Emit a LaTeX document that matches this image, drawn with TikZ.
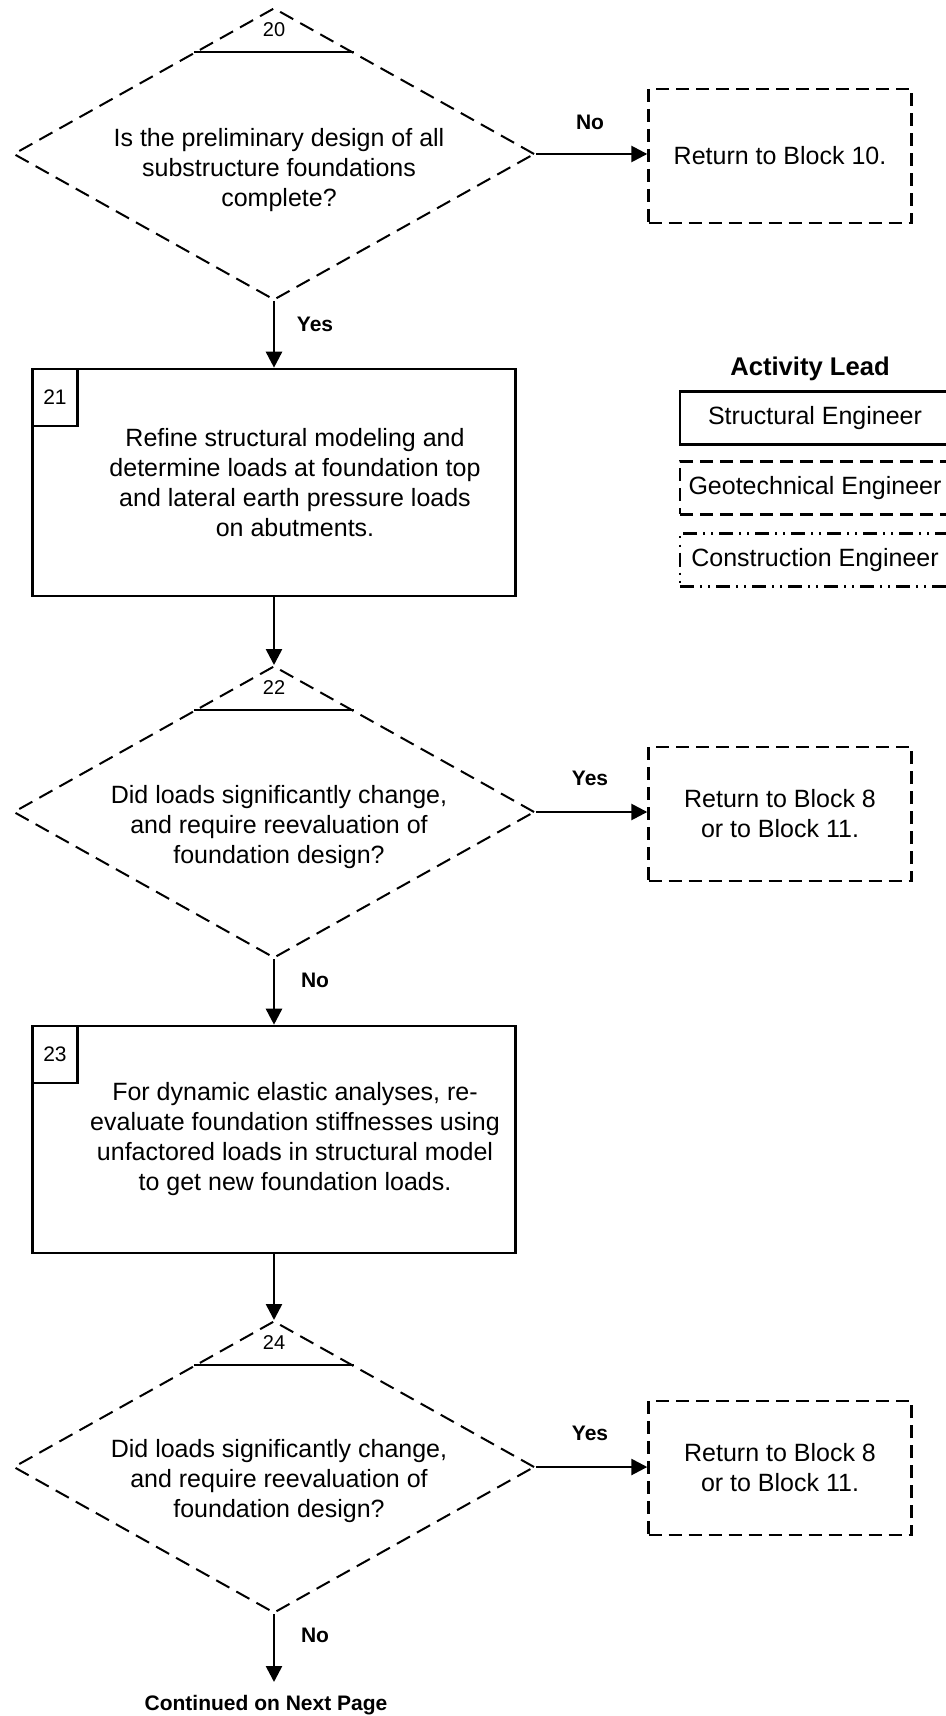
\documentclass[tikz,border=0pt]{standalone}
\usepackage{fontspec}
\setmainfont{Liberation Sans}
\usetikzlibrary{shapes.geometric}
\usetikzlibrary{arrows.meta,calc}

\begin{document}
\begin{tikzpicture}[x=0.5pt,y=-0.5pt,line width=1.3pt,
  every node/.style={align=center,font=\fontsize{12.5}{15}\selectfont},
  geodash/.style={dash pattern=on 6.5pt off 3.5pt},
  diadash/.style={dash pattern=on 7.5pt off 4pt},
  condash/.style={dash pattern=on 7pt off 3pt on 1pt off 3pt on 1pt off 3pt},
  decision/.style={diamond,draw,diadash,line width=1pt,aspect=1.78,inner sep=0pt,minimum width=260.5pt,minimum height=146pt},
  process/.style={rectangle,draw,minimum width=241.5pt,minimum height=113.5pt},
  numbox/.style={rectangle,draw,anchor=north west,inner sep=0pt,minimum width=22.5pt,minimum height=28.5pt,font=\fontsize{10.5}{12}\selectfont},
  returnbox/.style={rectangle,draw,geodash,line width=1.2pt,minimum width=131.5pt,minimum height=67pt},
  legendbox/.style={rectangle,draw,line width=1.1pt,minimum width=135pt,minimum height=26.5pt},
  flowlabel/.style={font=\fontsize{10.5}{12}\selectfont\bfseries},
  flow/.style={-{Triangle[length=8pt,width=8pt]}}]
  \useasboundingbox (0,0) rectangle (946,1716);

  % block 20
  \node[decision] (d20) at (274,154) {};
  \draw[line width=1pt] ($(d20.north)+(-80,45)$) -- ($(d20.north)+(80,45)$);
  \node[font=\fontsize{10}{12}\selectfont] (n20) at ($(d20.north)+(0,23)$) {20};
  \node (t20) at ($(d20.center)+(5,16)$) {Is the preliminary design of all\\substructure foundations\\complete?};
  \node[returnbox] (ret10) at (780,156) {Return to Block 10.};
  \node[flowlabel] (no20) at (590,122) {No};
  \node[flowlabel] (yes20) at (315,324) {Yes};

  % block 21
  \node[process] (b21) at (274,482.5) {};
  \node[numbox] (n21) at (b21.north west) {21};
  \node (t21) at ($(b21.center)+(21,0)$) {Refine structural modeling and\\determine loads at foundation top\\and lateral earth pressure loads\\on abutments.};

  % legend
  \node[font=\fontsize{12.8}{15}\selectfont\bfseries] (lead) at (810,369) {Activity Lead};
  \node[legendbox] (lstruct) at (815,418) {Structural Engineer};
  \node[legendbox,geodash] (lgeo) at (815,488) {Geotechnical Engineer};
  \node[legendbox,condash] (lcon) at (815,560) {Construction Engineer};

  % block 22
  \node[decision] (d22) at (274,812) {};
  \draw[line width=1pt] ($(d22.north)+(-80,45)$) -- ($(d22.north)+(80,45)$);
  \node[font=\fontsize{10}{12}\selectfont] (n22) at ($(d22.north)+(0,23)$) {22};
  \node (t22) at ($(d22.center)+(5,15)$) {Did loads significantly change,\\and require reevaluation of\\foundation design?};
  \node[returnbox] (ret22) at (780,814) {Return to Block 8\\or to Block 11.};
  \node[flowlabel] (yes22) at (590,778) {Yes};
  \node[flowlabel] (no22) at (315,980) {No};

  % block 23
  \node[process] (b23) at (274,1139.5) {};
  \node[numbox] (n23) at (b23.north west) {23};
  \node (t23) at ($(b23.center)+(21,0)$) {For dynamic elastic analyses, re-\\evaluate foundation stiffnesses using\\unfactored loads in structural model\\to get new foundation loads.};

  % block 24
  \node[decision] (d24) at (274,1467) {};
  \draw[line width=1pt] ($(d24.north)+(-80,45)$) -- ($(d24.north)+(80,45)$);
  \node[font=\fontsize{10}{12}\selectfont] (n24) at ($(d24.north)+(0,23)$) {24};
  \node (t24) at ($(d24.center)+(5,14)$) {Did loads significantly change,\\and require reevaluation of\\foundation design?};
  \node[returnbox] (ret24) at (780,1468) {Return to Block 8\\or to Block 11.};
  \node[flowlabel] (yes24) at (590,1433) {Yes};
  \node[flowlabel] (no24) at (315,1635) {No};

  \coordinate (contend) at (274,1682);
  \node[flowlabel] (cont) at (266,1705) {Continued on Next Page};

  % connectors
  \draw[flow] (d20.east) -- (ret10.west |- d20.east);
  \draw[flow] (d20.south) -- (b21.north);
  \draw[flow] (b21.south) -- (d22.north);
  \draw[flow] (d22.east) -- (ret22.west |- d22.east);
  \draw[flow] (d22.south) -- (b23.north);
  \draw[flow] (b23.south) -- (d24.north);
  \draw[flow] (d24.east) -- (ret24.west |- d24.east);
  \draw[flow] (d24.south) -- (contend);
\end{tikzpicture}
\end{document}
